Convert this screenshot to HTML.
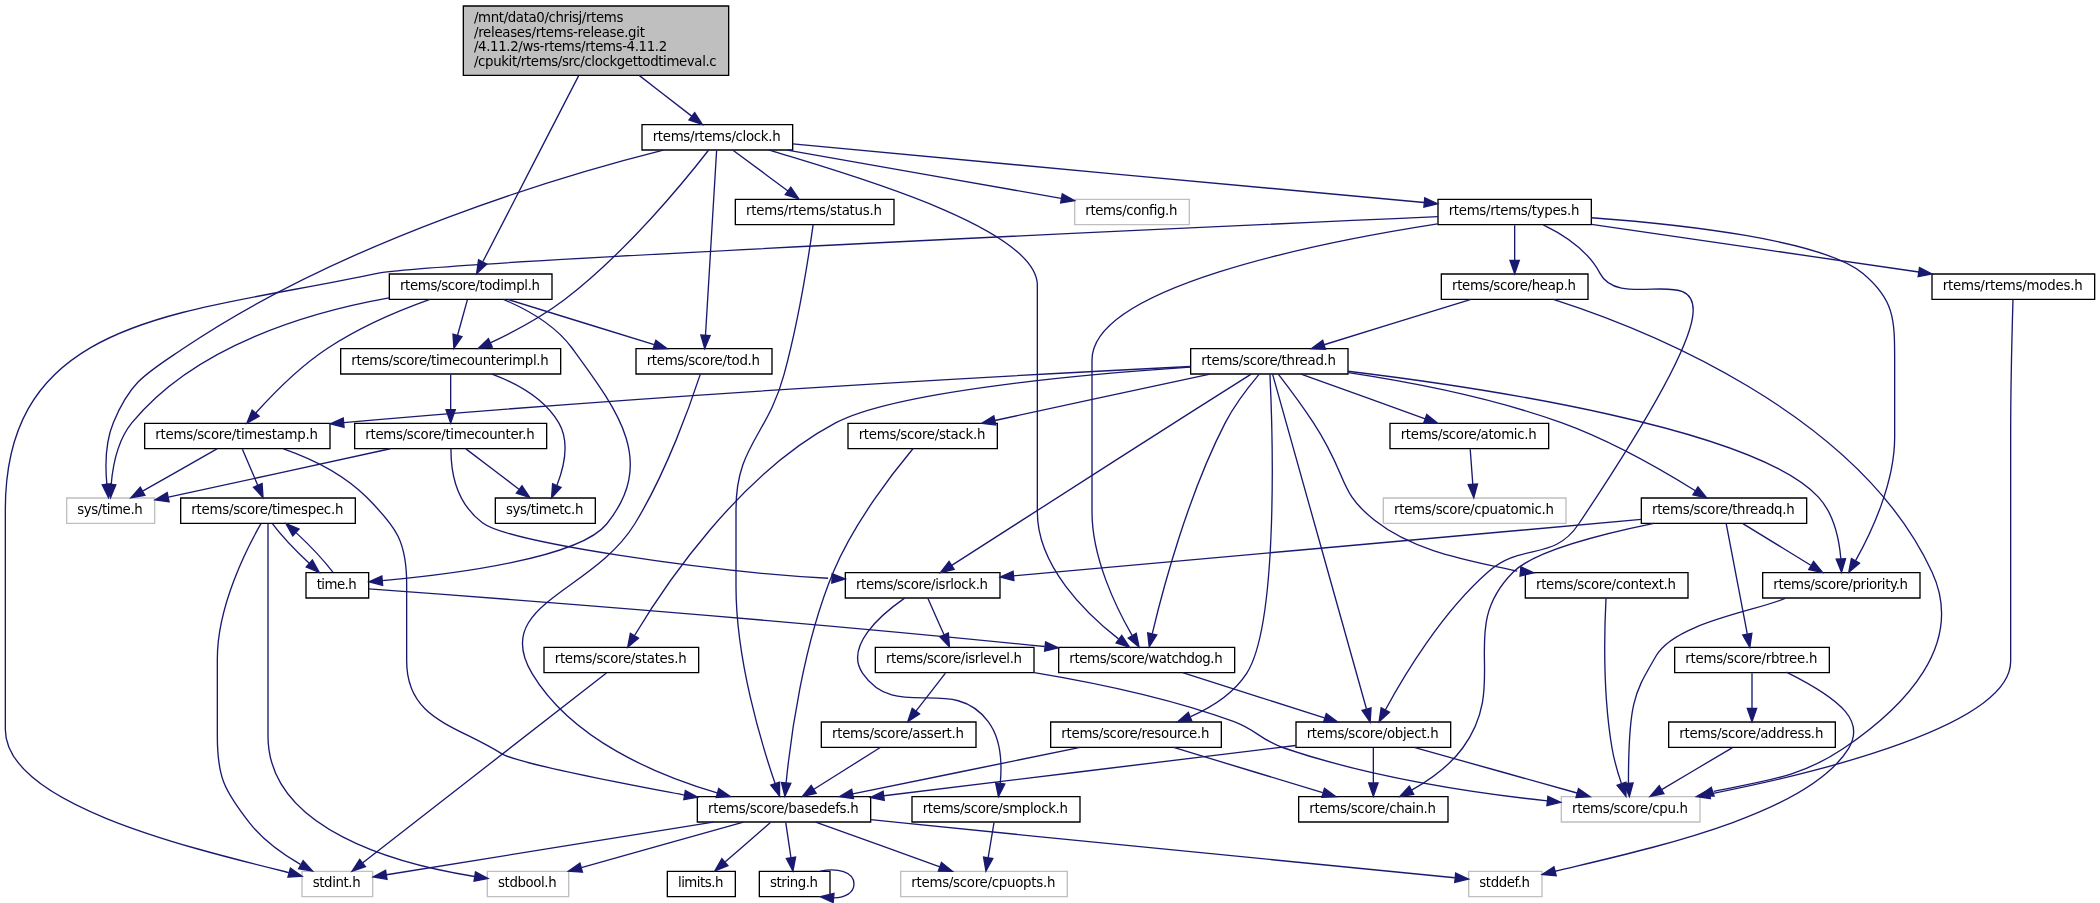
<!DOCTYPE html>
<html lang="en">
<head>
<meta charset="utf-8">
<title>clockgettodtimeval.c include dependency graph</title>
<style>
html,body{margin:0;padding:0;background:#fff;}
body{width:2100px;height:903px;overflow:hidden;}
svg{display:block;will-change:transform;}
svg text{font-family:"DejaVu Sans","Liberation Sans",sans-serif;font-size:10.0px;fill:#000;}
.edge path{fill:none;stroke:#191970;}
.edge polygon{fill:#191970;stroke:#191970;}
</style>
</head>
<body>
<svg width="2100" height="903" viewBox="0 0 1575 677.25">
<g id="graph0" class="graph" transform="translate(4 673.46)">
<polygon fill="white" stroke="none" points="-4,4 -4,-673.46 1571,-673.46 1571,4 -4,4"/>
<g class="node"><polygon fill="#bfbfbf" stroke="black" points="343.5,-616.96 343.5,-668.96 542.5,-668.96 542.5,-616.96 343.5,-616.96"/>
<text x="351.5" y="-656.96" textLength="112">/mnt/data0/chrisj/rtems</text>
<text x="351.5" y="-645.96" textLength="128.2">/releases/rtems-release.git</text>
<text x="351.5" y="-634.96" textLength="144.9">/4.11.2/ws-rtems/rtems-4.11.2</text>
<text x="351.5" y="-623.96" textLength="182">/cpukit/rtems/src/clockgettodtimeval.c</text>
</g>
<g class="node"><polygon fill="white" stroke="black" points="477.5,-560.96 477.5,-579.96 590.5,-579.96 590.5,-560.96 477.5,-560.96"/>
<text x="485.5" y="-567.96" textLength="96">rtems/rtems/clock.h</text>
</g>
<g class="edge"><path d="M475.34,-616.91C488.53,-606.69 503.33,-595.22 514.77,-586.36"/><polygon points="517.01,-589.05 522.78,-580.16 512.73,-583.52 517.01,-589.05"/></g>
<g class="node"><polygon fill="white" stroke="black" points="288,-448.96 288,-467.96 410,-467.96 410,-448.96 288,-448.96"/>
<text x="296" y="-455.96" textLength="105">rtems/score/todimpl.h</text>
</g>
<g class="edge"><path d="M429.93,-616.59C410.63,-579.12 374.98,-509.91 358.2,-477.32"/><polygon points="361.15,-475.4 353.45,-468.11 354.92,-478.61 361.15,-475.4"/></g>
<g class="node"><polygon fill="white" stroke="black" points="790,-168.96 790,-187.96 922,-187.96 922,-168.96 790,-168.96"/>
<text x="798" y="-175.96" textLength="115">rtems/score/watchdog.h</text>
</g>
<g class="edge"><path d="M572.6,-561C615.88,-547.29 774,-504.84 774,-459.46 774,-459.46 774,-459.46 774,-289.46 774,-248.73 810.59,-213.34 834.88,-194.32"/><polygon points="837.3,-196.88 843.19,-188.08 833.09,-191.29 837.3,-196.88"/></g>
<g class="node"><polygon fill="white" stroke="black" points="473,-392.96 473,-411.96 575,-411.96 575,-392.96 473,-392.96"/>
<text x="481" y="-399.96" textLength="85">rtems/score/tod.h</text>
</g>
<g class="edge"><path d="M533.46,-560.54C531.89,-534.41 527.27,-457.68 525.12,-422.04"/><polygon points="528.61,-421.8 524.52,-412.03 521.62,-422.23 528.61,-421.8"/></g>
<g class="node"><polygon fill="white" stroke="black" points="547.5,-504.96 547.5,-523.96 666.5,-523.96 666.5,-504.96 547.5,-504.96"/>
<text x="555.5" y="-511.96" textLength="102">rtems/rtems/status.h</text>
</g>
<g class="edge"><path d="M545.73,-560.79C556.84,-552.57 573.74,-540.07 586.98,-530.27"/><polygon points="589.1,-533.06 595.06,-524.3 584.94,-527.43 589.1,-533.06"/></g>
<g class="node"><polygon fill="white" stroke="black" points="1074.5,-504.96 1074.5,-523.96 1189.5,-523.96 1189.5,-504.96 1074.5,-504.96"/>
<text x="1082.5" y="-511.96" textLength="98">rtems/rtems/types.h</text>
</g>
<g class="edge"><path d="M590.53,-565.5C701,-555.2 945.12,-532.34 1064.12,-521.59"/><polygon points="1064.56,-525.07 1074.2,-520.68 1063.93,-518.1 1064.56,-525.07"/></g>
<g class="node"><polygon fill="white" stroke="#bfbfbf" points="46,-280.96 46,-299.96 112,-299.96 112,-280.96 46,-280.96"/>
<text x="54" y="-287.96" textLength="49">sys/time.h</text>
</g>
<g class="edge"><path d="M493.5,-560.9C420,-542.45 254.75,-493.92 134,-412.46 105.59,-393.3 94.17,-388.1 81,-356.46 74.9,-341.81 74.9,-323.64 76.14,-310.24"/><polygon points="79.61,-310.64 77.36,-300.29 72.67,-309.79 79.61,-310.64"/></g>
<g class="node"><polygon fill="white" stroke="#bfbfbf" points="802,-504.96 802,-523.96 888,-523.96 888,-504.96 802,-504.96"/>
<text x="810" y="-511.96" textLength="69">rtems/config.h</text>
</g>
<g class="edge"><path d="M586.5,-560.91C642,-551.2 733.34,-534.85 791.82,-524.7"/><polygon points="792.71,-528.1 801.96,-522.94 791.51,-521.2 792.71,-528.1"/></g>
<g class="node"><polygon fill="white" stroke="black" points="251.5,-392.96 251.5,-411.96 416.5,-411.96 416.5,-392.96 251.5,-392.96"/>
<text x="259.5" y="-399.96" textLength="148">rtems/score/timecounterimpl.h</text>
</g>
<g class="edge"><path d="M527.52,-560.94C511.16,-539.81 466.11,-484.19 419,-448.46 402.1,-435.64 381.03,-424.46 364.1,-416.46"/><polygon points="365.22,-413.12 354.67,-412.12 362.3,-419.48 365.22,-413.12"/></g>
<g class="node"><polygon fill="white" stroke="black" points="968,-112.96 968,-131.96 1084,-131.96 1084,-112.96 968,-112.96"/>
<text x="976" y="-119.96" textLength="99">rtems/score/object.h</text>
</g>
<g class="edge"><path d="M882.94,-168.91C911.66,-159.78 957.33,-145.28 989.32,-135.12"/><polygon points="990.72,-138.34 999.19,-131.98 988.6,-131.67 990.72,-138.34"/></g>
<g class="node"><polygon fill="white" stroke="black" points="519,-56.96 519,-75.96 649,-75.96 649,-56.96 519,-56.96"/>
<text x="527" y="-63.96" textLength="113">rtems/score/basedefs.h</text>
</g>
<g class="edge"><path d="M967.76,-114.35C888.39,-104.65 746.16,-87.28 658.93,-76.62"/><polygon points="659.18,-73.12 648.83,-75.39 658.33,-80.07 659.18,-73.12"/></g>
<g class="node"><polygon fill="white" stroke="#bfbfbf" points="1167,-56.96 1167,-75.96 1271,-75.96 1271,-56.96 1167,-56.96"/>
<text x="1175" y="-63.96" textLength="87">rtems/score/cpu.h</text>
</g>
<g class="edge"><path d="M1056.58,-112.91C1089.61,-103.67 1142.39,-88.9 1178.77,-78.72"/><polygon points="1179.87,-82.05 1188.56,-75.98 1177.99,-75.31 1179.87,-82.05"/></g>
<g class="node"><polygon fill="white" stroke="black" points="970,-56.96 970,-75.96 1082,-75.96 1082,-56.96 970,-56.96"/>
<text x="978" y="-63.96" textLength="95">rtems/score/chain.h</text>
</g>
<g class="edge"><path d="M1026,-112.55C1026,-105.47 1026,-95.33 1026,-86.45"/><polygon points="1029.5,-86.22 1026,-76.22 1022.5,-86.22 1029.5,-86.22"/></g>
<g class="node"><polygon fill="white" stroke="#bfbfbf" points="671.5,-0.96 671.5,-19.96 796.5,-19.96 796.5,-0.96 671.5,-0.96"/>
<text x="679.5" y="-7.96" textLength="108">rtems/score/cpuopts.h</text>
</g>
<g class="edge"><path d="M607.77,-56.91C632.89,-47.86 672.71,-33.53 700.9,-23.38"/><polygon points="702.12,-26.66 710.34,-19.98 699.75,-20.08 702.12,-26.66"/></g>
<g class="node"><polygon fill="white" stroke="#bfbfbf" points="1097.5,-0.96 1097.5,-19.96 1152.5,-19.96 1152.5,-0.96 1097.5,-0.96"/>
<text x="1105.5" y="-7.96" textLength="38">stddef.h</text>
</g>
<g class="edge"><path d="M648.61,-58.75C656.16,-57.97 663.75,-57.2 671,-56.46 825.29,-40.84 1009.13,-22.79 1087.08,-15.17"/><polygon points="1087.75,-18.62 1097.36,-14.16 1087.07,-11.65 1087.75,-18.62"/></g>
<g class="node"><polygon fill="white" stroke="#bfbfbf" points="361.5,-0.96 361.5,-19.96 422.5,-19.96 422.5,-0.96 361.5,-0.96"/>
<text x="369.5" y="-7.96" textLength="44">stdbool.h</text>
</g>
<g class="edge"><path d="M553.58,-56.91C520.72,-47.67 468.22,-32.9 432.03,-22.72"/><polygon points="432.85,-19.32 422.28,-19.98 430.96,-26.06 432.85,-19.32"/></g>
<g class="node"><polygon fill="white" stroke="#bfbfbf" points="222.5,-0.96 222.5,-19.96 275.5,-19.96 275.5,-0.96 222.5,-0.96"/>
<text x="230.5" y="-7.96" textLength="36">stdint.h</text>
</g>
<g class="edge"><path d="M530.92,-56.91C462.52,-45.88 345.36,-27 285.92,-17.42"/><polygon points="286.29,-13.93 275.86,-15.79 285.17,-20.84 286.29,-13.93"/></g>
<g class="node"><polygon fill="white" stroke="black" points="496.5,-0.96 496.5,-19.96 547.5,-19.96 547.5,-0.96 496.5,-0.96"/>
<text x="504.5" y="-7.96" textLength="34">limits.h</text>
</g>
<g class="edge"><path d="M574.04,-56.79C564.87,-48.81 551.06,-36.78 539.97,-27.12"/><polygon points="541.98,-24.23 532.14,-20.3 537.38,-29.51 541.98,-24.23"/></g>
<g class="node"><polygon fill="white" stroke="black" points="565.5,-0.96 565.5,-19.96 618.5,-19.96 618.5,-0.96 565.5,-0.96"/>
<text x="573.5" y="-7.96" textLength="36">string.h</text>
</g>
<g class="edge"><path d="M585.32,-56.55C586.38,-49.39 587.91,-39.1 589.23,-30.16"/><polygon points="592.7,-30.62 590.7,-20.22 585.78,-29.6 592.7,-30.62"/></g>
<g class="edge"><path d="M611.21,-20.04C624.03,-22.73 636.5,-19.54 636.5,-10.46 636.5,-3.87 629.92,-0.38 621.4,0"/><polygon points="620.87,3.47 611.21,-0.89 621.48,-3.51 620.87,3.47"/></g>
<g class="edge"><path d="M521.26,-392.84C514.58,-372.4 496.2,-319.81 472,-280.46 440.36,-229.01 363.94,-220.28 395,-168.46 424.88,-118.63 488.65,-92.01 533.84,-78.82"/><polygon points="535.05,-82.12 543.75,-76.06 533.17,-75.38 535.05,-82.12"/></g>
<g class="edge"><path d="M605.83,-504.85C603.02,-484.88 595.26,-433.94 584,-392.46 571.51,-346.47 548,-339.12 548,-291.46 548,-291.46 548,-291.46 548,-233.46 548,-178.84 566.85,-116.34 577.27,-85.98"/><polygon points="580.65,-86.91 580.68,-76.32 574.05,-84.58 580.65,-86.91"/></g>
<g class="edge"><path d="M1074.23,-505.5C982.79,-491.25 815,-457.71 815,-403.46 815,-403.46 815,-403.46 815,-289.46 815,-254.98 832.91,-218.03 845.06,-196.93"/><polygon points="848.16,-198.55 850.3,-188.18 842.16,-194.96 848.16,-198.55"/></g>
<g class="edge"><path d="M1153.48,-504.82C1168.39,-497.56 1187.11,-485.58 1196,-468.46 1218.8,-424.56 1350.23,-535.03 1180,-280.46 1160.99,-252.04 1137.71,-267.01 1112,-244.46 1077.1,-213.86 1048.74,-166.43 1034.99,-141"/><polygon points="1038.07,-139.33 1030.31,-132.12 1031.88,-142.6 1038.07,-139.33"/></g>
<g class="edge"><path d="M1074.44,-510.93C889.13,-502.69 317.84,-476.77 279,-468.46 135.4,-437.76 0,-438.31 0,-291.46 0,-291.46 0,-291.46 0,-126.4 0,-70.77 135.13,-38.18 212.67,-19.02"/><polygon points="211.93,-15.59 222.50,-16.30 213.80,-22.34 211.93,-15.59"/></g>
<g class="node"><polygon fill="white" stroke="black" points="1077,-448.96 1077,-467.96 1187,-467.96 1187,-448.96 1077,-448.96"/>
<text x="1085" y="-455.96" textLength="93">rtems/score/heap.h</text>
</g>
<g class="edge"><path d="M1132,-504.55C1132,-497.47 1132,-487.33 1132,-478.45"/><polygon points="1135.5,-478.22 1132,-468.22 1128.5,-478.22 1135.5,-478.22"/></g>
<g class="node"><polygon fill="white" stroke="black" points="1318,-224.96 1318,-243.96 1436,-243.96 1436,-224.96 1318,-224.96"/>
<text x="1326" y="-231.96" textLength="101">rtems/score/priority.h</text>
</g>
<g class="edge"><path d="M1189.51,-510.17C1256.79,-505.21 1362.82,-493.57 1393,-468.46 1416.67,-448.77 1417,-434.26 1417,-403.46 1417,-403.46 1417,-403.46 1417,-345.46 1417,-311.08 1399.53,-274.1 1387.68,-252.97"/><polygon points="1390.62,-251.07 1382.56,-244.2 1384.58,-254.6 1390.62,-251.07"/></g>
<g class="node"><polygon fill="white" stroke="black" points="1445,-448.96 1445,-467.96 1567,-467.96 1567,-448.96 1445,-448.96"/>
<text x="1453" y="-455.96" textLength="105">rtems/rtems/modes.h</text>
</g>
<g class="edge"><path d="M1189.62,-505.15C1256,-495.5 1364,-479.8 1435.1,-469.44"/><polygon points="1434.60,-465.98 1445.00,-468.00 1435.61,-472.90 1434.60,-465.98"/></g>
<g class="edge"><path d="M1160.95,-448.96C1227.39,-427.6 1389.36,-364.65 1445,-244.46 1470.13,-190.19 1424.78,-143.29 1378.21,-111.85 1345.84,-90.01 1318.08,-87.74 1281.33,-79.96"/><polygon points="1279.43,-83.02 1271.00,-76.60 1281.59,-76.36 1279.43,-83.02"/></g>
<g class="node"><polygon fill="white" stroke="black" points="889,-392.96 889,-411.96 1007,-411.96 1007,-392.96 889,-392.96"/>
<text x="897" y="-399.96" textLength="101">rtems/score/thread.h</text>
</g>
<g class="edge"><path d="M1099.3,-448.91C1068,-439.6 1023,-425.2 989.06,-414.9"/><polygon points="988.03,-418.24 979.50,-411.96 990.09,-411.55 988.03,-418.24"/></g>
<g class="edge"><path d="M940.29,-392.71C932.95,-384.02 922.03,-370.06 915,-356.46 886.92,-302.16 868.17,-231.71 860.26,-198.45"/><polygon points="863.58,-197.28 857.92,-188.32 856.76,-198.85 863.58,-197.28"/></g>
<g class="edge"><path d="M950.42,-392.84C961.27,-354.17 1005.58,-196.26 1020.82,-141.93"/><polygon points="1024.28,-142.56 1023.61,-131.99 1017.54,-140.67 1024.28,-142.56"/></g>
<g class="node"><polygon fill="white" stroke="black" points="1038.5,-336.96 1038.5,-355.96 1157.5,-355.96 1157.5,-336.96 1038.5,-336.96"/>
<text x="1046.5" y="-343.96" textLength="102">rtems/score/atomic.h</text>
</g>
<g class="edge"><path d="M971.77,-392.91C996.89,-383.86 1036.71,-369.53 1064.9,-359.38"/><polygon points="1066.12,-362.66 1074.34,-355.98 1063.75,-356.08 1066.12,-362.66"/></g>
<g class="node"><polygon fill="white" stroke="black" points="1140,-224.96 1140,-243.96 1262,-243.96 1262,-224.96 1140,-224.96"/>
<text x="1148" y="-231.96" textLength="105">rtems/score/context.h</text>
</g>
<g class="edge"><path d="M954.86,-392.7C961.75,-383.78 972.52,-369.44 981,-356.46 1008.26,-314.75 998.64,-305.62 1026.95,-283.27 1057.46,-259.18 1098.27,-253.17 1133.91,-245.07"/><polygon points="1136.02,-241.36 1146.30,-243.90 1136.67,-248.32 1136.02,-241.36"/></g>
<g class="node"><polygon fill="white" stroke="black" points="630,-224.96 630,-243.96 746,-243.96 746,-224.96 630,-224.96"/>
<text x="638" y="-231.96" textLength="99">rtems/score/isrlock.h</text>
</g>
<g class="edge"><path d="M934.38,-392.86C920.08,-383.81 896.94,-369.17 877,-356.46 816.37,-317.84 744.96,-272.04 709.8,-249.47"/><polygon points="711.58,-246.45 701.28,-243.99 707.8,-252.34 711.58,-246.45"/></g>
<g class="edge"><path d="M1007.01,-395.02C1109.21,-382.61 1312.78,-351.97 1360,-300.46 1371.44,-287.98 1375.38,-268.75 1376.63,-254.44"/><polygon points="1380.14,-254.41 1377.16,-244.24 1373.15,-254.05 1380.14,-254.41"/></g>
<g class="node"><polygon fill="white" stroke="black" points="784,-112.96 784,-131.96 912,-131.96 912,-112.96 784,-112.96"/>
<text x="792" y="-119.96" textLength="111">rtems/score/resource.h</text>
</g>
<g class="edge"><path d="M948.45,-392.74C950.22,-355.06 955.53,-206.46 931,-168.46 921.28,-153.41 904.73,-143.01 888.95,-136.03"/><polygon points="889.88,-132.63 879.29,-132.12 887.25,-139.12 889.88,-132.63"/></g>
<g class="node"><polygon fill="white" stroke="black" points="632,-336.96 632,-355.96 744,-355.96 744,-336.96 632,-336.96"/>
<text x="640" y="-343.96" textLength="95">rtems/score/stack.h</text>
</g>
<g class="edge"><path d="M903.5,-392.91C858,-383.3 790,-368.5 742.08,-358.09"/><polygon points="741.34,-361.51 732.30,-355.98 742.81,-354.67 741.34,-361.51"/></g>
<g class="node"><polygon fill="white" stroke="black" points="404,-168.96 404,-187.96 520,-187.96 520,-168.96 404,-168.96"/>
<text x="412" y="-175.96" textLength="99">rtems/score/states.h</text>
</g>
<g class="edge"><path d="M888.7,-398.09C807.84,-392.66 667.91,-380.14 623,-356.46 550.45,-318.22 494.04,-233.68 472.03,-197.01"/><polygon points="474.83,-194.87 466.75,-188.01 468.79,-198.41 474.83,-194.87"/></g>
<g class="node"><polygon fill="white" stroke="black" points="1227,-280.96 1227,-299.96 1351,-299.96 1351,-280.96 1227,-280.96"/>
<text x="1235" y="-287.96" textLength="107">rtems/score/threadq.h</text>
</g>
<g class="edge"><path d="M1007.35,-393.98C1052.14,-387.21 1114.6,-375.36 1167,-356.46 1204.07,-343.1 1243.78,-320.14 1267.49,-305.39"/><polygon points="1269.45,-308.29 1276.04,-299.99 1265.72,-302.37 1269.45,-308.29"/></g>
<g class="node"><polygon fill="white" stroke="black" points="104.5,-336.96 104.5,-355.96 243.5,-355.96 243.5,-336.96 104.5,-336.96"/>
<text x="112.5" y="-343.96" textLength="122">rtems/score/timestamp.h</text>
</g>
<g class="edge"><path d="M888.89,-398.61C770.53,-392.69 495.79,-377.87 253.81,-356.49"/><polygon points="254.04,-353 243.77,-355.6 253.42,-359.97 254.04,-353"/></g>
<g class="node"><polygon fill="white" stroke="#bfbfbf" points="1033.5,-280.96 1033.5,-299.96 1170.5,-299.96 1170.5,-280.96 1033.5,-280.96"/>
<text x="1041.5" y="-287.96" textLength="120">rtems/score/cpuatomic.h</text>
</g>
<g class="edge"><path d="M1098.66,-336.55C1099.18,-329.47 1099.94,-319.33 1100.59,-310.45"/><polygon points="1104.1,-310.45 1101.35,-300.22 1097.12,-309.93 1104.1,-310.45"/></g>
<g class="edge"><path d="M1200.5,-224.88C1199.51,-204.96 1197.96,-154.12 1205,-112.46 1206.52,-103.49 1209.36,-93.82 1212.09,-85.75"/><polygon points="1215.41,-86.85 1215.49,-76.26 1208.82,-84.49 1215.41,-86.85"/></g>
<g class="node"><polygon fill="white" stroke="black" points="652.5,-168.96 652.5,-187.96 771.5,-187.96 771.5,-168.96 652.5,-168.96"/>
<text x="660.5" y="-175.96" textLength="102">rtems/score/isrlevel.h</text>
</g>
<g class="edge"><path d="M691.96,-224.55C695.21,-217.23 699.92,-206.65 703.95,-197.57"/><polygon points="707.25,-198.78 708.11,-188.22 700.85,-195.93 707.25,-198.78"/></g>
<g class="node"><polygon fill="white" stroke="black" points="680,-56.96 680,-75.96 806,-75.96 806,-56.96 680,-56.96"/>
<text x="688" y="-63.96" textLength="109">rtems/score/smplock.h</text>
</g>
<g class="edge"><path d="M674.46,-224.85C656.63,-212.42 629.08,-188.71 643,-168.46 668.35,-131.61 709.98,-168.12 737,-132.46 746.94,-119.35 747.53,-100.21 746.19,-86.09"/><polygon points="749.64,-85.5 744.83,-76.05 742.7,-86.43 749.64,-85.5"/></g>
<g class="edge"><path d="M771.76,-169.04C814.23,-161.99 872.16,-150.2 921,-132.46 938.94,-125.95 940.93,-118.61 959,-112.46 1024.39,-90.22 1102.95,-78.57 1156.48,-72.75"/><polygon points="1156.93,-76.22 1166.51,-71.69 1156.2,-69.26 1156.93,-76.22"/></g>
<g class="node"><polygon fill="white" stroke="black" points="612,-112.96 612,-131.96 728,-131.96 728,-112.96 612,-112.96"/>
<text x="620" y="-119.96" textLength="99">rtems/score/assert.h</text>
</g>
<g class="edge"><path d="M705.06,-168.55C699.07,-160.84 690.25,-149.5 682.95,-140.12"/><polygon points="685.71,-137.96 676.81,-132.22 680.18,-142.26 685.71,-137.96"/></g>
<g class="edge"><path d="M656.18,-112.79C642.77,-104.37 622.18,-91.44 606.41,-81.54"/><polygon points="608.11,-78.47 597.78,-76.12 604.39,-84.4 608.11,-78.47"/></g>
<g class="edge"><path d="M741.51,-56.55C740.32,-49.39 738.61,-39.1 737.12,-30.16"/><polygon points="740.55,-29.5 735.46,-20.22 733.65,-30.66 740.55,-29.5"/></g>
<g class="edge"><path d="M1334.75,-224.66C1315.24,-215.74 1252.44,-206.73 1238,-181.46 1222.54,-154.4 1217.33,-149.65 1217.33,-86.09"/><polygon points="1220.83,-86.25 1218.03,-76.03 1213.84,-85.77 1220.83,-86.25"/></g>
<g class="edge"><path d="M806.17,-112.91C759.92,-103.45 685.39,-88.2 635.56,-78.01"/><polygon points="636.13,-74.56 625.64,-75.98 634.73,-81.41 636.13,-74.56"/></g>
<g class="edge"><path d="M876.2,-112.91C906.41,-103.75 954.51,-89.15 988.03,-78.98"/><polygon points="989.37,-82.23 997.93,-75.98 987.34,-75.54 989.37,-82.23"/></g>
<g class="edge"><path d="M680.67,-336.93C666.79,-320.31 636.66,-281.94 621,-244.46 598.15,-189.79 588.88,-119.52 585.59,-86.37"/><polygon points="589.06,-85.92 584.66,-76.28 582.09,-86.56 589.06,-85.92"/></g>
<g class="edge"><path d="M450.85,-168.77C416.41,-141.94 311.48,-60.16 268.09,-26.34"/><polygon points="270.08,-23.46 260.04,-20.07 265.78,-28.98 270.08,-23.46"/></g>
<g class="edge"><path d="M1236.5,-280.95C1197,-272.94 1146.45,-259.87 1131,-244.46 1087.77,-201.36 1128.96,-161.8 1093,-112.46 1083.21,-99.03 1068.11,-88.39 1054.72,-80.83"/><polygon points="1056.28,-77.7 1045.81,-76.09 1052.99,-83.88 1056.28,-77.7"/></g>
<g class="edge"><path d="M1226.95,-283.89C1113.58,-273.7 873.87,-252.17 756.14,-241.59"/><polygon points="756.44,-238.1 746.17,-240.69 755.81,-245.07 756.44,-238.1"/></g>
<g class="edge"><path d="M1303.14,-280.79C1316.87,-272.37 1337.94,-259.44 1354.06,-249.54"/><polygon points="1356.2,-252.33 1362.9,-244.12 1352.54,-246.37 1356.2,-252.33"/></g>
<g class="node"><polygon fill="white" stroke="black" points="1252,-168.96 1252,-187.96 1368,-187.96 1368,-168.96 1252,-168.96"/>
<text x="1260" y="-175.96" textLength="99">rtems/score/rbtree.h</text>
</g>
<g class="edge"><path d="M1290.65,-280.83C1294.04,-263.08 1301.85,-222.13 1306.45,-198.06"/><polygon points="1309.92,-198.54 1308.36,-188.06 1303.05,-197.22 1309.92,-198.54"/></g>
<g class="edge"><path d="M1335.82,-169.38C1379.3,-147.64 1394.56,-131.67 1382.25,-111.85 1350.75,-61.18 1228.1,-35.87 1162.24,-20.01"/><polygon points="1161.45,-23.42 1152.60,-17.60 1163.15,-16.63 1161.45,-23.42"/></g>
<g class="node"><polygon fill="white" stroke="black" points="1247.5,-112.96 1247.5,-131.96 1372.5,-131.96 1372.5,-112.96 1247.5,-112.96"/>
<text x="1255.5" y="-119.96" textLength="108">rtems/score/address.h</text>
</g>
<g class="edge"><path d="M1310,-168.55C1310,-161.47 1310,-151.33 1310,-142.45"/><polygon points="1313.5,-142.22 1310,-132.22 1306.5,-142.22 1313.5,-142.22"/></g>
<g class="edge"><path d="M1295.38,-112.79C1281.05,-104.29 1258.99,-91.19 1242.25,-81.26"/><polygon points="1243.97,-78.21 1233.58,-76.12 1240.4,-84.23 1243.97,-78.21"/></g>
<g class="edge"><path d="M208.6,-336.85C228.5,-329.92 253.16,-318.34 271,-300.46 293.48,-277.94 301,-267.28 301,-235.46 301,-235.46 301,-235.46 301,-177.68 301,-133.79 338.18,-129.63 372.16,-108.22 385.05,-100.10 475.61,-83.58 509.48,-77.13"/><polygon points="508.86,-73.68 519.30,-75.50 510.01,-80.59 508.86,-73.68"/></g>
<g class="edge"><path d="M158.74,-336.79C143.78,-328.29 120.75,-315.19 103.27,-305.26"/><polygon points="104.65,-302.02 94.23,-300.12 101.19,-308.1 104.65,-302.02"/></g>
<g class="node"><polygon fill="white" stroke="black" points="131.5,-280.96 131.5,-299.96 262.5,-299.96 262.5,-280.96 131.5,-280.96"/>
<text x="139.5" y="-287.96" textLength="114">rtems/score/timespec.h</text>
</g>
<g class="edge"><path d="M177.8,-336.55C180.91,-329.23 185.42,-318.65 189.29,-309.57"/><polygon points="192.57,-310.79 193.27,-300.22 186.13,-308.04 192.57,-310.79"/></g>
<g class="edge"><path d="M197,-280.91C197,-262.4 197,-217.28 197,-179.46 197,-179.46 197,-179.46 197,-121.46 197,-51.03 294.72,-25.19 351.8,-16.11"/><polygon points="352.58,-19.53 361.96,-14.6 351.55,-12.61 352.58,-19.53"/></g>
<g class="edge"><path d="M191.72,-280.7C181.27,-262.51 159,-219.07 159,-179.46 159,-179.46 159,-179.46 159,-121.46 159,-90.67 164.05,-80.74 183,-56.46 193.17,-43.45 208.16,-32.8 221.28,-25.14"/><polygon points="223.36,-28 230.42,-20.1 219.97,-21.87 223.36,-28"/></g>
<g class="node"><polygon fill="white" stroke="black" points="225.5,-224.96 225.5,-243.96 272.5,-243.96 272.5,-224.96 225.5,-224.96"/>
<text x="233.5" y="-231.96" textLength="30">time.h</text>
</g>
<g class="edge"><path d="M200.42,-280.55C206.45,-272.53 217.63,-260.57 227.89,-250.98"/><polygon points="230.32,-253.49 235.44,-244.22 225.66,-248.28 230.32,-253.49"/></g>
<g class="edge"><path d="M272.62,-231.76C346.05,-226.41 576.98,-209.11 779.53,-188.58"/><polygon points="780.17,-192.04 789.76,-187.54 779.46,-185.07 780.17,-192.04"/></g>
<g class="edge"><path d="M245.64,-244.3C239.61,-252.33 228.36,-264.37 218.06,-274"/><polygon points="215.59,-271.51 210.47,-280.79 220.26,-276.73 215.59,-271.51"/></g>
<g class="edge"><path d="M1505.74,-448.91C1505.2,-430.4 1504,-385.28 1504,-347.46 1504,-347.46 1504,-347.46 1504,-177.46 1504,-129.49 1361.69,-94.39 1278.2,-77.93"/><polygon points="1278.8,-74.48 1268.32,-76.01 1277.47,-81.35 1278.8,-74.48"/></g>
<g class="node"><polygon fill="white" stroke="black" points="262,-336.96 262,-355.96 406,-355.96 406,-336.96 262,-336.96"/>
<text x="270" y="-343.96" textLength="127">rtems/score/timecounter.h</text>
</g>
<g class="edge"><path d="M334,-392.55C334,-385.47 334,-375.33 334,-366.45"/><polygon points="337.5,-366.22 334,-356.22 330.5,-366.22 337.5,-366.22"/></g>
<g class="node"><polygon fill="white" stroke="black" points="367.5,-280.96 367.5,-299.96 442.5,-299.96 442.5,-280.96 367.5,-280.96"/>
<text x="375.5" y="-287.96" textLength="58">sys/timetc.h</text>
</g>
<g class="edge"><path d="M365.02,-392.9C383.03,-386.16 404.23,-374.77 415,-356.46 423.4,-342.19 419.07,-323.23 413.74,-309.47"/><polygon points="416.87,-307.9 409.67,-300.13 410.46,-310.69 416.87,-307.9"/></g>
<g class="edge"><path d="M334.21,-336.86C334.08,-314.13 340.94,-294.16 357.79,-281.39 377.28,-266.61 527.10,-244.66 617.07,-239.75"/><polygon points="619.88,-236.14 630.00,-239.27 620.14,-243.14 619.88,-236.14"/></g>
<g class="edge"><path d="M288.7,-336.91C243,-327.02 170.31,-310.8 122.37,-300.65"/><polygon points="122.82,-297.17 112.31,-298.52 121.37,-304.01 122.82,-297.17"/></g>
<g class="edge"><path d="M345.41,-336.79C356.11,-328.65 372.34,-316.3 385.16,-306.55"/><polygon points="387.54,-309.14 393.39,-300.3 383.31,-303.57 387.54,-309.14"/></g>
<g class="edge"><path d="M376.73,-448.91C406.43,-439.75 453.72,-425.15 486.67,-414.98"/><polygon points="487.88,-418.27 496.4,-411.98 485.81,-411.59 487.88,-418.27"/></g>
<g class="edge"><path d="M318.5,-448.93C297,-441.31 266.94,-428.82 242,-412.46 220.99,-398.69 200.68,-378 187.81,-363.68"/><polygon points="190.38,-361.29 181.15,-356.09 185.11,-365.91 190.38,-361.29"/></g>
<g class="edge"><path d="M287.82,-450.1C229.21,-439.67 142.81,-414.84 95,-356.46 84.31,-343.41 80.6,-324.26 79.39,-310.12"/><polygon points="82.88,-309.88 78.87,-300.07 75.89,-310.24 82.88,-309.88"/></g>
<g class="edge"><path d="M373.5,-448.94C390.47,-441.79 412.22,-429.91 425,-412.46 460.33,-364.23 488.4,-327.12 451,-280.46 430.29,-254.63 334.7,-242.67 282.78,-238"/><polygon points="282.98,-234.5 272.72,-237.13 282.38,-241.48 282.98,-234.5"/></g>
<g class="edge"><path d="M346.52,-448.55C344.51,-441.31 341.61,-430.87 339.11,-421.86"/><polygon points="342.48,-420.91 336.43,-412.22 335.74,-422.79 342.48,-420.91"/></g>
</g></svg>
</body>
</html>
